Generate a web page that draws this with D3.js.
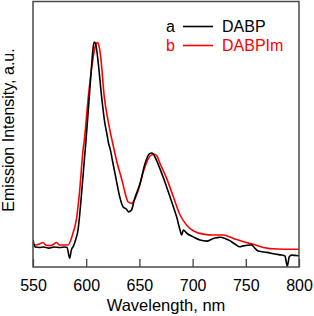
<!DOCTYPE html>
<html>
<head>
<meta charset="utf-8">
<script src="https://cdn.jsdelivr.net/npm/d3@7/dist/d3.min.js"></script>
<style>
  html, body { margin: 0; padding: 0; background: #fff; }
  svg { display: block; font-family: "Liberation Sans", Arial, sans-serif; }
</style>
</head>
<body>
<svg id="chart" width="314" height="316"></svg>
<script>
// Wavelength (nm) and normalized emission intensity (a.u.)
const dabpWl = [550,552,556,560,565,570,575,580,582,584.5,586,588,590,592.3,595.4,598,599.8,602.9,605.2,606.5,607.6,608.8,610,611.4,614.5,617.5,619.5,621,622.5,625.2,628.3,631.5,634.6,637.7,640,642.6,645.1,650.6,655.3,658.4,660,661.5,663,666,671,675.6,681.9,685,688.2,689.7,691.3,694.5,700.6,707,713.2,719.5,722.6,725.8,730.5,735,739.8,744.5,747.7,755.5,758.6,761.7,769.6,777.4,783.7,786.8,789,790.9,793,800];
const dabpI  = [0.120,0.089,0.087,0.089,0.084,0.089,0.087,0.089,0.087,0.039,0.075,0.093,0.120,0.164,0.312,0.461,0.563,0.756,0.904,0.975,1.000,0.992,0.960,0.904,0.756,0.640,0.590,0.550,0.525,0.460,0.386,0.312,0.268,0.257,0.245,0.253,0.297,0.371,0.460,0.497,0.505,0.507,0.503,0.475,0.416,0.356,0.268,0.223,0.164,0.142,0.164,0.150,0.134,0.120,0.115,0.127,0.130,0.132,0.127,0.117,0.102,0.090,0.094,0.098,0.083,0.071,0.065,0.058,0.053,0.049,0.004,0.046,0.053,0.050];

const dabpimWl = [550,553,556,559.4,562,566,569,572,575,580,583,587.6,590.7,593.9,597,598.2,602,605.7,608,609.3,610.4,611.6,613.6,617,620.5,624.9,629.2,633.6,636.5,639.3,642.8,646,649,653.7,658.4,661,664,666.5,669.4,675.6,681.9,688.2,694.5,700.7,710,719.5,725.8,728.9,738.3,747.7,757,766.5,779,800];
const dabpimI  = [0.100,0.098,0.102,0.109,0.098,0.095,0.100,0.109,0.098,0.098,0.098,0.151,0.209,0.342,0.519,0.563,0.756,0.904,0.970,0.992,0.998,0.990,0.935,0.756,0.652,0.550,0.460,0.386,0.330,0.290,0.283,0.305,0.342,0.423,0.482,0.497,0.501,0.493,0.460,0.394,0.312,0.231,0.186,0.161,0.146,0.142,0.142,0.142,0.127,0.112,0.101,0.087,0.080,0.079];

const xTicks = [550,600,650,700,750,800];
const seriesNames = ["DABP","DABPIm"];
const seriesTags = ["a","b"];
const seriesColors = ["#000000","#ff0000"];

const svg = d3.select("#chart");
const L = 33, R = 299, T = 1.5, B = 267;

const x = d3.scaleLinear().domain([550,800]).range([L,R]);
const y = d3.scaleLinear().domain([0,1.18]).range([B,T]);

const line = d3.line().x(d => x(d[0])).y(d => y(d[1])).curve(d3.curveMonotoneX);

const series = [
  d3.zip(dabpWl, dabpI),
  d3.zip(dabpimWl, dabpimI)
];

svg.append("clipPath").attr("id","clip").append("rect")
  .attr("x",L).attr("y",T).attr("width",R-L).attr("height",B-T);

[1,0].forEach(i => {
  svg.append("path")
    .datum(series[i])
    .attr("clip-path","url(#clip)")
    .attr("fill","none")
    .attr("stroke",seriesColors[i])
    .attr("stroke-width",1.6)
    .attr("stroke-linejoin","round")
    .attr("d",line);
});

// x axis with inward ticks
const xAxis = d3.axisBottom(x).tickValues(xTicks).tickSize(-8).tickPadding(13).tickFormat(d3.format("d"));
const gx = svg.append("g").attr("transform",`translate(0,${B})`).call(xAxis);
gx.select(".domain").remove();
gx.selectAll(".tick line").attr("stroke","#444").attr("stroke-width",1.3);
gx.selectAll(".tick text").attr("font-size",16).attr("fill","#000")
  .attr("font-family","'Liberation Sans', Arial, sans-serif");

// frame
svg.append("rect").attr("x",L).attr("y",T).attr("width",R-L).attr("height",B-T)
  .attr("fill","none").attr("stroke","#4a4a4a").attr("stroke-width",1.5);

// axis labels
svg.append("text").attr("x",166).attr("y",311).attr("text-anchor","middle")
  .attr("font-size",16.5).attr("fill","#000").text("Wavelength, nm");
svg.append("text").attr("transform","translate(13.5,130) rotate(-90)").attr("text-anchor","middle")
  .attr("font-size",16).attr("fill","#000").text("Emission Intensity, a.u.");

// legend
const lg = svg.append("g");
seriesNames.forEach((name,i) => {
  const ly = 26.5 + i*19;
  lg.append("text").attr("x",166).attr("y",ly+5.2).attr("font-size",16)
    .attr("fill",seriesColors[i]).text(seriesTags[i]);
  lg.append("line").attr("x1",183).attr("x2",213).attr("y1",ly).attr("y2",ly)
    .attr("stroke",seriesColors[i]).attr("stroke-width",1.6);
  lg.append("text").attr("x",222).attr("y",ly+5.2).attr("font-size",16)
    .attr("fill",seriesColors[i]).text(name);
});
</script>
</body>
</html>
